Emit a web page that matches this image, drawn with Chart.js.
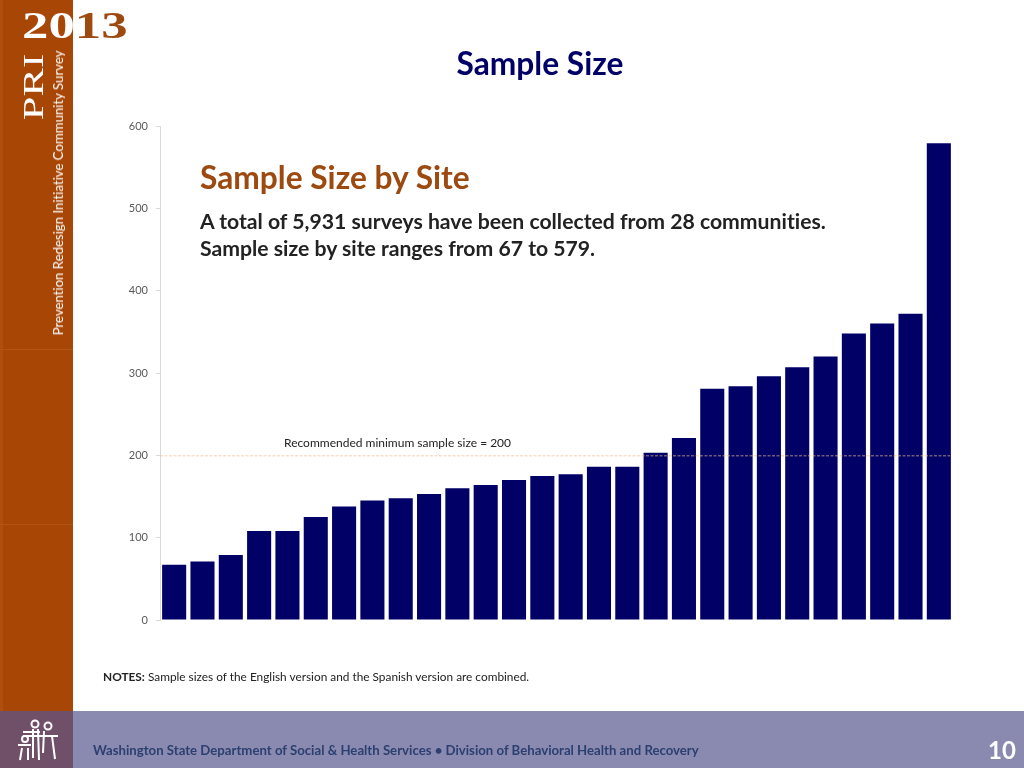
<!DOCTYPE html>
<html lang="en">
<head>
<meta charset="UTF-8">
<title>Sample Size</title>
<style>
  html, body { margin: 0; padding: 0; background: #fff; }
  #page { position: relative; width: 1024px; height: 768px; overflow: hidden; font-family: Lato, "Open Sans", sans-serif; font-variant-ligatures: none; }
  #page div { position: absolute; white-space: nowrap; }
  canvas { position: absolute; left: 0; top: 0; }
  #side { left: 0; top: 0; width: 73px; height: 711px; background: #a84606; }
  #sideEdge { left: 0; top: 0; width: 3px; height: 711px; background: #b04e10; }
  .rule { left: 0; width: 73px; height: 1px; background: #b25414; }
  #foot { left: 73px; top: 711px; width: 951px; height: 57px; background: #8a8ab0; }
  #footIcon { left: 0; top: 711px; width: 73px; height: 57px; background: #6f5068; }
  #year { left: 22px; top: 3px; font: bold 38px "Liberation Serif", serif; transform-origin: 0 0; transform: scaleX(1.39);
    background: linear-gradient(90deg, #fff 0, #fff 36.7px, #9c4a10 36.7px); -webkit-background-clip: text; background-clip: text; color: transparent; }
  #pri { left: 33px; top: 87px; font: 30px "Liberation Serif", serif; color: #fff; transform: translate(-50%, -50%) rotate(-90deg) scaleX(1.42); }
  #survey { left: 58px; top: 192.5px; font-size: 13.2px; color: #fff; transform: translate(-50%, -50%) rotate(-90deg); }
  #title { left: 540px; top: 63px; font-weight: bold; font-size: 31.7px; color: #000066; transform: translate(-50%, -50%); }
  #head { left: 200px; top: 158px; font-weight: bold; font-size: 31.7px; color: #9c4a10; }
  .sub { left: 200px; font-weight: bold; font-size: 21.2px; color: #222; }
  #minLabel { left: 284px; top: 435px; font-size: 12px; color: #222; }
  #notes { left: 103px; top: 669px; font-size: 11.85px; color: #222; }
  #org { left: 93px; top: 742px; font-weight: bold; font-size: 13.2px; color: #2b3f70; }
  #num { left: 988px; top: 735px; font-weight: bold; font-size: 24px; color: #fff; }
</style>
</head>
<body>
<div id="page">
  <div id="side"></div>
  <div id="sideEdge"></div>
  <div class="rule" style="top:349px"></div>
  <div class="rule" style="top:524px"></div>
  <div id="foot"></div>
  <div id="footIcon">
    <svg width="73" height="57" fill="none" stroke="#fff" stroke-width="2">
      <circle cx="35" cy="13" r="3.5"/><circle cx="48" cy="15" r="3.5"/><circle cx="25" cy="28" r="3"/>
      <path d="M23 21H40M23 25H58M18 34H31M22 37L20 49M28 37V49M33 18V47M38 18L39 49M44 20L43 42M52 25L55 48"/>
    </svg>
  </div>
  <canvas id="chart" width="1024" height="768"></canvas>
  <div id="year">2013</div>
  <div id="pri">PRI</div>
  <div id="survey">Prevention Redesign Initiative Community Survey</div>
  <div id="title">Sample Size</div>
  <div id="head">Sample Size by Site</div>
  <div class="sub" style="top:208px">A total of 5,931 surveys have been collected from 28 communities.</div>
  <div class="sub" style="top:235px">Sample size by site ranges from 67 to 579.</div>
  <div id="minLabel">Recommended minimum sample size = 200</div>
  <div id="notes"><b>NOTES:</b> Sample sizes of the English version and the Spanish version are combined.</div>
  <div id="org">Washington State Department of Social &amp; Health Services • Division of Behavioral Health and Recovery</div>
  <div id="num">10</div>
</div>
<script src="https://cdn.jsdelivr.net/npm/chart.js"></script>
<script>
const sampleSizes = [67, 71, 79, 108, 108, 125, 138, 145, 148, 153, 160, 164, 170, 175,
                     177, 186, 186, 203, 221, 281, 284, 296, 307, 320, 348, 360, 372, 579]
const sites = sampleSizes.map((v, i) => 'Site ' + (i + 1))
const recommendedMin = 200

// dashed line for the recommended minimum, sits on top of the bars
const minLine = {
  id: 'minLine',
  afterDatasetsDraw(chart) {
    const ctx = chart.ctx
    const y = chart.scales.y.getPixelForValue(recommendedMin)
    ctx.save()
    ctx.strokeStyle = 'rgba(238, 190, 145, 0.7)'
    ctx.lineWidth = 1
    ctx.setLineDash([3, 1.5])
    ctx.beginPath()
    ctx.moveTo(chart.chartArea.left, y + 0.5)
    ctx.lineTo(950, y + 0.5)
    ctx.stroke()
    ctx.restore()
  }
}

new Chart(document.getElementById('chart'), {
  type: 'bar',
  data: {
    labels: sites,
    datasets: [{
      data: sampleSizes,
      backgroundColor: '#000066',
      barPercentage: 1,
      categoryPercentage: 0.85
    }]
  },
  plugins: [minLine],
  options: {
    responsive: false,
    animation: false,
    layout: { padding: { left: 0, top: 126, right: 71, bottom: 148 } },
    plugins: { legend: { display: false }, tooltip: { enabled: false } },
    scales: {
      x: { display: false },
      y: {
        min: 0,
        max: 600,
        afterFit: s => { s.width = 160 },
        border: { color: '#d9d9d9' },
        grid: { drawOnChartArea: false, tickLength: 4, tickColor: '#d9d9d9' },
        ticks: { stepSize: 100, color: '#595959', padding: 8, font: { family: 'Lato', size: 11 } }
      }
    }
  }
})
</script>
</body>
</html>
